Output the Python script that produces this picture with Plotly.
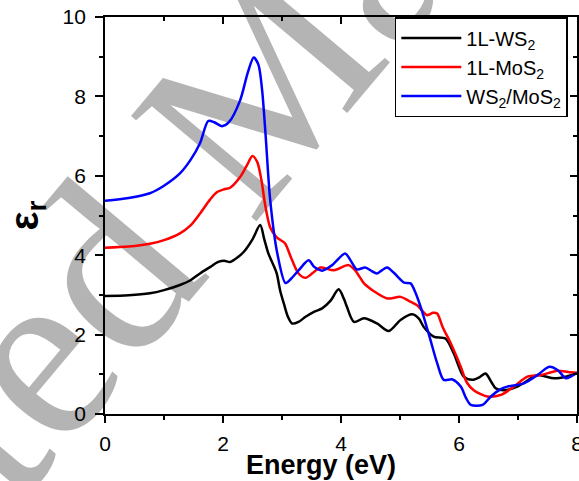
import plotly.graph_objects as go

# ---- data ----
x_ws2 = [0.0, 0.4, 0.76, 1.0, 1.27, 1.45, 1.61, 1.78, 1.92, 2.02, 2.12, 2.25, 2.35, 2.50, 2.63, 2.70, 2.77, 2.84, 2.91, 2.97,
         3.03, 3.10, 3.17, 3.28, 3.40, 3.55, 3.68, 3.82, 3.96, 4.05, 4.10, 4.22, 4.39, 4.61, 4.81, 5.01, 5.21, 5.32, 5.40,
         5.57, 5.77, 5.91, 6.08, 6.23, 6.35, 6.45, 6.55, 6.62, 6.76, 6.99, 7.33, 7.45, 7.61, 7.81, 8.0]
y_ws2 = [2.97, 2.99, 3.04, 3.12, 3.25, 3.37, 3.54, 3.70, 3.83, 3.86, 3.83, 3.95, 4.08, 4.40, 4.76, 4.40, 4.04, 3.80, 3.54, 3.10,
         2.79, 2.45, 2.28, 2.32, 2.45, 2.58, 2.66, 2.85, 3.14, 2.90, 2.70, 2.32, 2.41, 2.28, 2.09, 2.37, 2.51, 2.40, 2.20,
         1.95, 1.90, 1.53, 0.94, 0.86, 0.93, 1.02, 0.80, 0.65, 0.60, 0.69, 0.98, 0.95, 0.90, 0.94, 1.03]

x_mos2 = [0.0, 0.4, 0.76, 1.0, 1.27, 1.45, 1.61, 1.78, 1.90, 2.02, 2.12, 2.29, 2.40, 2.50, 2.58, 2.65, 2.72, 2.80, 2.91, 3.05,
          3.15, 3.28, 3.40, 3.52, 3.65, 3.88, 4.13, 4.25, 4.39, 4.55, 4.78, 5.01, 5.15, 5.29, 5.46, 5.56, 5.63, 5.72, 5.86,
          6.03, 6.13, 6.25, 6.48, 6.71, 6.93, 7.16, 7.39, 7.67, 7.85, 8.0]
y_mos2 = [4.19, 4.22, 4.29, 4.38, 4.55, 4.75, 5.05, 5.40, 5.59, 5.66, 5.70, 5.97, 6.25, 6.50, 6.35, 5.90, 5.22, 4.70, 4.45, 4.30,
          3.95, 3.54, 3.43, 3.55, 3.69, 3.62, 3.75, 3.60, 3.29, 3.10, 2.91, 2.95, 2.85, 2.74, 2.49, 2.55, 2.53, 2.20, 1.78,
          1.19, 0.80, 0.60, 0.44, 0.48, 0.69, 0.94, 0.98, 1.09, 1.06, 1.04]

x_het = [0.0, 0.4, 0.76, 1.0, 1.27, 1.45, 1.61, 1.75, 1.85, 1.98, 2.1, 2.29, 2.42, 2.52, 2.60, 2.66, 2.72, 2.80, 2.92, 3.06,
         3.15, 3.30, 3.45, 3.55, 3.68, 3.85, 4.07, 4.17, 4.27, 4.41, 4.52, 4.61, 4.78, 4.90, 5.07, 5.18, 5.25, 5.35, 5.50,
         5.63, 5.74, 5.89, 6.03, 6.12, 6.20, 6.40, 6.54, 6.70, 6.82, 7.10, 7.33, 7.53, 7.67, 7.81, 7.90, 8.0]
y_het = [5.37, 5.44, 5.56, 5.75, 6.06, 6.40, 6.82, 7.38, 7.35, 7.25, 7.35, 7.90, 8.60, 8.98, 8.80, 8.20, 7.07, 5.39, 4.05, 3.30,
         3.40, 3.65, 3.87, 3.70, 3.61, 3.75, 4.04, 3.85, 3.64, 3.69, 3.60, 3.54, 3.69, 3.55, 3.31, 3.29, 3.10, 2.70, 1.95,
         1.28, 0.86, 0.87, 0.69, 0.40, 0.23, 0.23, 0.44, 0.62, 0.69, 0.77, 0.98, 1.19, 1.11, 0.90, 0.95, 1.04]

names = ["1L-WS<sub>2</sub>", "1L-MoS<sub>2</sub>", "WS<sub>2</sub>/MoS<sub>2</sub>"]
colors = ["#000000", "#ff0000", "#0000ff"]
x_ticks = [0, 2, 4, 6, 8]
y_ticks = [0, 2, 4, 6, 8, 10]

FONT = "Liberation Sans, Arial, sans-serif"

fig = go.Figure()
for xs, ys, nm, c in zip([x_ws2, x_mos2, x_het], [y_ws2, y_mos2, y_het], names, colors):
    fig.add_trace(go.Scatter(x=xs, y=ys, mode="lines", name=nm,
                             line=dict(color=c, width=2.5, shape="spline", smoothing=0.8)))

# dummy trace for the mirrored (top/right) axes
fig.add_trace(go.Scatter(x=[None], y=[None], xaxis="x2", yaxis="y2", showlegend=False, hoverinfo="skip"))

axis_common = dict(showgrid=False, zeroline=False, showline=True, linecolor="black", linewidth=1.8,
                   tickcolor="black", tickwidth=1.5, automargin=False)

fig.update_layout(
    width=579, height=481,
    margin=dict(l=105, r=2, t=17, b=67, autoexpand=False),
    paper_bgcolor="white", plot_bgcolor="white",
    font=dict(family=FONT, size=21, color="black"),
    xaxis=dict(range=[0, 8], tickvals=x_ticks, ticks="outside", ticklen=7, ticklabeloverflow="allow",
               minor=dict(dtick=1, tick0=0, ticks="outside", ticklen=4, tickcolor="black", tickwidth=1.5),
               tickfont=dict(size=21, family=FONT), ticklabelstandoff=3, **axis_common),
    yaxis=dict(range=[0, 10], tickvals=y_ticks, ticks="outside", ticklen=8,
               minor=dict(dtick=1, tick0=0, ticks="outside", ticklen=4, tickcolor="black", tickwidth=1.5),
               tickfont=dict(size=21, family=FONT), ticklabelstandoff=5,
               title=dict(text="<b>ε<sub>r</sub></b>", font=dict(size=40, family=FONT), standoff=12),
               **axis_common),
    xaxis2=dict(range=[0, 8], overlaying="x", side="top", anchor="y", tickvals=x_ticks,
                ticks="inside", ticklen=7, showticklabels=False,
                minor=dict(dtick=1, tick0=0, ticks="inside", ticklen=4, tickcolor="black", tickwidth=1.5),
                **axis_common),
    yaxis2=dict(range=[0, 10], overlaying="y", side="right", anchor="x", tickvals=y_ticks,
                ticks="inside", ticklen=7, showticklabels=False,
                minor=dict(dtick=1, tick0=0, ticks="inside", ticklen=4, tickcolor="black", tickwidth=1.5),
                **axis_common),
    legend=dict(x=0.614, y=1.0, xanchor="left", yanchor="top", bgcolor="white",
                bordercolor="black", borderwidth=1.5, font=dict(size=20, family=FONT),
                itemwidth=60, tracegroupgap=0),
    showlegend=True,
)

# x-axis title
fig.add_annotation(text="<b>Energy (eV)</b>", xref="paper", yref="paper", x=0.458, y=-0.086,
                   xanchor="center", yanchor="top", showarrow=False,
                   font=dict(size=27, family=FONT, color="black"))

# watermark (drawn below the data)
fig.add_shape(type="rect", xref="paper", yref="paper", x0=0.21, x1=0.23, y0=0.77, y1=0.79,
              layer="below", line=dict(width=0), fillcolor="rgba(0,0,0,0)",
              label=dict(text="Accepted Manuscript", textangle=-50, textposition="middle center",
                         font=dict(size=250, family="Liberation Serif, serif", color="#b4b4b4")))

fig.write_html("out.html")
